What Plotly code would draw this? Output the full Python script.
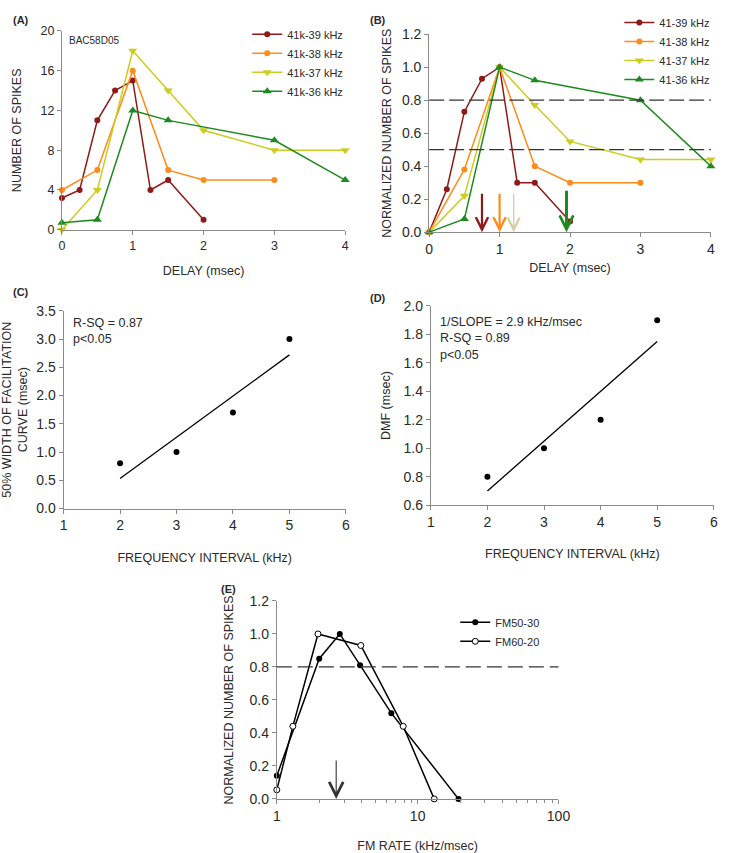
import numpy as np
import plotly.graph_objects as go

W, H = 729, 853

# ---------------- data ----------------
# Panel A: number of spikes vs delay
delay_39 = [0, 0.25, 0.5, 0.75, 1, 1.25, 1.5, 2]
delay_38 = [0, 0.5, 1, 1.5, 2, 3]
delay_37 = [0, 0.5, 1, 1.5, 2, 3, 4]
delay_36 = [0, 0.5, 1, 1.5, 3, 4]
spikes_39 = [3.2, 4, 11, 14, 15, 4, 5, 1]
spikes_38 = [4, 6, 16, 6, 5, 5]
spikes_37 = [0, 4, 18, 14, 10, 8, 8]
spikes_36 = [0.7, 1, 12, 11, 9, 5]
names_a = ["41k-39 kHz", "41k-38 kHz", "41k-37 kHz", "41k-36 kHz"]

# Panel B: normalized spikes vs delay
norm_39 = [0, 0.26, 0.73, 0.93, 1.0, 0.3, 0.3, 0.065]
norm_38 = [0, 0.38, 1.0, 0.4, 0.3, 0.3]
norm_37 = [0, 0.22, 1.0, 0.77, 0.55, 0.44, 0.44]
norm_36 = [0, 0.08, 1.0, 0.92, 0.8, 0.4]
names_b = ["41-39 kHz", "41-38 kHz", "41-37 kHz", "41-36 kHz"]
thresholds_b = [0.8, 0.5]
dmf_arrows = [0.75, 1.0, 1.2, 1.95]

# Panels C and D
freq_interval = [2, 3, 4, 5]
width50 = [0.8, 1.0, 1.7, 3.0]
dmf = [0.8, 1.0, 1.2, 1.9]

# Panel E
fm_rate_5030 = [1, 2, 2.8, 3.9, 6.5, 19.5]
norm_5030 = [0.14, 0.85, 1.0, 0.81, 0.52, 0.0]
fm_rate_6020 = [1, 1.3, 1.96, 3.95, 7.9, 13.1]
norm_6020 = [0.055, 0.44, 1.0, 0.93, 0.44, 0.0]
threshold_e = 0.8
best_fm_rate = 2.64

# ---------------- style ----------------
FONT = "Liberation Sans, Arial, sans-serif"
TXT = "#2a2a2a"
AXC = "#8a8a8a"
colors = ["#8E1A1A", "#FF8C1A", "#CCCC22", "#1F8A1F"]
symbols = ["circle", "circle", "triangle-down", "triangle-up"]
msizes = [6, 6, 8, 8]
arrow_colors = ["#8E1A1A", "#FF8C1A", "#CFCFA6", "#1F8A1F"]
arrow_widths = [2.2, 2.2, 1.3, 3]
arrow_sizes = [1.1, 1.1, 1.8, 0.9]
arrow_len = [-40, -40, -40, -43]


def dx(a, b):
    return [a / W, b / W]


def dy(top, bottom):
    return [1 - bottom / H, 1 - top / H]


fig = go.Figure()

# Panel A
for x, y, n, c, s, ms in zip([delay_39, delay_38, delay_37, delay_36],
                             [spikes_39, spikes_38, spikes_37, spikes_36],
                             names_a, colors, symbols, msizes):
    fig.add_trace(go.Scatter(x=x, y=y, name=n, mode="lines+markers",
                             line=dict(color=c, width=1.5),
                             marker=dict(color=c, symbol=s, size=ms),
                             xaxis="x", yaxis="y", legend="legend",
                             cliponaxis=False))

# Panel B
for x, y, n, c, s, ms in zip([delay_39, delay_38, delay_37, delay_36],
                             [norm_39, norm_38, norm_37, norm_36],
                             names_b, colors, symbols, msizes):
    fig.add_trace(go.Scatter(x=x, y=y, name=n, mode="lines+markers",
                             line=dict(color=c, width=1.5),
                             marker=dict(color=c, symbol=s, size=ms),
                             xaxis="x2", yaxis="y2", legend="legend2",
                             cliponaxis=False))

# Panel C
fitc = np.polyfit(freq_interval, width50, 1)
fx = [freq_interval[0], freq_interval[-1]]
fig.add_trace(go.Scatter(x=fx, y=np.polyval(fitc, fx), mode="lines",
                         line=dict(color="black", width=1.3), showlegend=False,
                         xaxis="x3", yaxis="y3"))
fig.add_trace(go.Scatter(x=freq_interval, y=width50, mode="markers",
                         marker=dict(color="black", size=6), showlegend=False,
                         xaxis="x3", yaxis="y3", cliponaxis=False))

# Panel D
fitd = np.polyfit(freq_interval, dmf, 1)
fig.add_trace(go.Scatter(x=fx, y=np.polyval(fitd, fx), mode="lines",
                         line=dict(color="black", width=1.3), showlegend=False,
                         xaxis="x4", yaxis="y4"))
fig.add_trace(go.Scatter(x=freq_interval, y=dmf, mode="markers",
                         marker=dict(color="black", size=6), showlegend=False,
                         xaxis="x4", yaxis="y4", cliponaxis=False))

# Panel E
fig.add_trace(go.Scatter(x=fm_rate_5030, y=norm_5030, name="FM50-30",
                         mode="lines+markers", line=dict(color="black", width=1.5),
                         marker=dict(color="black", size=6, symbol="circle"),
                         xaxis="x5", yaxis="y5", legend="legend3", cliponaxis=False))
fig.add_trace(go.Scatter(x=fm_rate_6020, y=norm_6020, name="FM60-20",
                         mode="lines+markers", line=dict(color="black", width=1.5),
                         marker=dict(color="white", size=6, symbol="circle",
                                     line=dict(color="black", width=1)),
                         xaxis="x5", yaxis="y5", legend="legend3", cliponaxis=False))

# dashed threshold lines
for t in thresholds_b:
    fig.add_shape(type="line", xref="x2 domain", yref="y2", x0=0, x1=1, y0=t, y1=t,
                  line=dict(color="#333333", width=1.3, dash="15px,5px"))
fig.add_shape(type="line", xref="x5 domain", yref="y5", x0=0, x1=1,
              y0=threshold_e, y1=threshold_e,
              line=dict(color="#333333", width=1.3, dash="15px,6px"))

annotations = []
# arrows in B
for xv, c, w, s, ln in zip(dmf_arrows, arrow_colors, arrow_widths, arrow_sizes, arrow_len):
    annotations.append(dict(x=xv, y=0, xref="x2", yref="y2", ax=0, ay=ln,
                            axref="pixel", ayref="pixel", showarrow=True, arrowhead=5,
                            arrowsize=s, arrowwidth=w, arrowcolor=c, text=""))
# arrow in E (log axis -> log10 position)
annotations.append(dict(x=np.log10(best_fm_rate), y=0, xref="x5", yref="y5", ax=0, ay=-40,
                        axref="pixel", ayref="pixel", showarrow=True, arrowhead=5,
                        arrowsize=2.5, arrowwidth=1.1, arrowcolor="#333333", text=""))

# panel labels
for lab, px, py in [("(A)", 6, 12), ("(B)", 372, 12), ("(C)", 6, 290),
                    ("(D)", 372, 296), ("(E)", 219, 593)]:
    annotations.append(dict(text="<b>%s</b>" % lab, x=px / W, y=1 - py / H, xref="paper",
                            yref="paper", xanchor="left", yanchor="middle", showarrow=False,
                            font=dict(size=11, color=TXT, family=FONT)))

annotations.append(dict(text="BAC58D05", x=63 / W, y=1 - 33 / H, xref="paper", yref="paper",
                        xanchor="left", yanchor="middle", showarrow=False,
                        font=dict(size=10, color=TXT, family=FONT)))
annotations.append(dict(text="R-SQ = 0.87<br>p<0.05", x=68 / W, y=1 - 312 / H, xref="paper",
                        yref="paper", xanchor="left", yanchor="top", align="left",
                        showarrow=False, font=dict(size=12.5, color=TXT, family=FONT)))
annotations.append(dict(text="1/SLOPE = 2.9 kHz/msec<br>R-SQ = 0.89<br>p<0.05", x=443 / W,
                        y=1 - 311 / H, xref="paper", yref="paper", xanchor="left",
                        yanchor="top", align="left", showarrow=False,
                        font=dict(size=12.5, color=TXT, family=FONT)))


def axis(domain, rng, title, dtick=None, fmt=None, standoff=10, tfs=14, **kw):
    d = dict(domain=domain, range=rng, showline=True, linecolor=AXC, linewidth=1,
             ticks="outside", ticklen=4, tickcolor=AXC, showgrid=False, zeroline=False,
             tickfont=dict(size=tfs, color=TXT, family=FONT),
             title=dict(text=title, font=dict(size=12.5, color=TXT, family=FONT),
                        standoff=standoff))
    if dtick is not None:
        d["dtick"] = dtick
        d["tick0"] = rng[0]
    if fmt:
        d["tickformat"] = fmt
    d.update(kw)
    return d


legend_common = dict(bgcolor="rgba(0,0,0,0)", font=dict(size=11, color=TXT, family=FONT),
                     xanchor="left", yanchor="top", tracegroupgap=0, itemwidth=30)

fig.update_layout(
    width=W, height=H, margin=dict(l=0, r=0, t=0, b=0),
    paper_bgcolor="white", plot_bgcolor="white",
    font=dict(family=FONT, color=TXT),
    xaxis=axis(dx(58.3, 348.3), [0, 4], "DELAY (msec)", dtick=1, standoff=14, tfs=12.5,
               anchor="y"),
    yaxis=axis(dy(23.3, 226.3), [0, 20], "NUMBER OF SPIKES", dtick=4, standoff=16, tfs=12.5,
               anchor="x"),
    xaxis2=axis(dx(434.3, 722.7), [0, 4], "DELAY (msec)", dtick=1, standoff=7, anchor="y2"),
    yaxis2=axis(dy(26.7, 228.7), [0, 1.2], "NORMALIZED NUMBER OF SPIKES", dtick=0.2,
                fmt=".1f", standoff=7, anchor="x2"),
    xaxis3=axis(dx(60, 349), [1, 6], "FREQUENCY INTERVAL (kHz)", dtick=1, standoff=20,
                anchor="y3"),
    yaxis3=axis(dy(309, 510.7), [0, 3.5],
                "50% WIDTH OF FACILITATION<br>CURVE (msec)", dtick=0.5, fmt=".1f",
                standoff=11, anchor="x3"),
    xaxis4=axis(dx(436, 725.7), [1, 6], "FREQUENCY INTERVAL (kHz)", dtick=1, standoff=20,
                anchor="y4"),
    yaxis4=axis(dy(304, 507.3), [0.6, 2.0], "DMF (msec)", dtick=0.2, fmt=".1f",
                standoff=10, anchor="x4"),
    xaxis5=axis(dx(278.3, 566.7), [0, 2], "FM RATE (kHz/msec)", standoff=21, anchor="y5",
                type="log", tickvals=[1, 10, 100], ticktext=["1", "10", "100"],
                minor=dict(ticks="outside", ticklen=3, tickcolor=AXC,
                           tickvals=[2, 3, 4, 5, 6, 7, 8, 9, 20, 30, 40, 50, 60, 70, 80, 90])),
    yaxis5=axis(dy(605, 807), [0, 1.2], "NORMALIZED NUMBER OF SPIKES", dtick=0.2, fmt=".1f",
                standoff=13, anchor="x5"),
    legend=dict(x=248 / W, y=1 - 12 / H, **legend_common),
    legend2=dict(x=629 / W, y=1.0, **legend_common),
    legend3=dict(x=461 / W, y=1 - 612 / H, **legend_common),
    annotations=annotations,
)

fig.write_html("out.html", config={"displayModeBar": False},
               post_script="document.body.style.margin='0';document.body.style.overflow='hidden';")
